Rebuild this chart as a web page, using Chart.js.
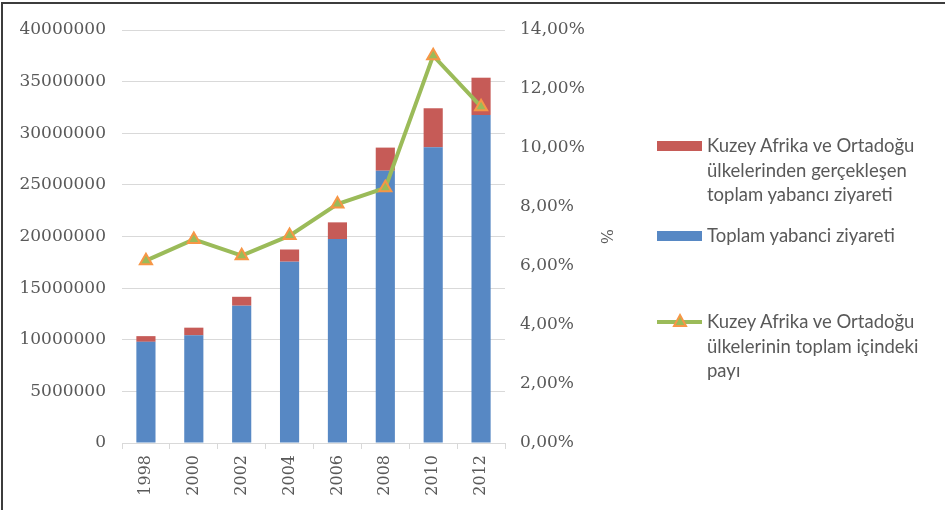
<!DOCTYPE html>
<html><head><meta charset="utf-8">
<script src="https://cdn.jsdelivr.net/npm/chart.js@4/dist/chart.umd.min.js"></script>
<style>
html,body{margin:0;padding:0;background:#fff;}
#wrap{position:relative;width:945px;height:510px;overflow:hidden;background:#fff;}
#frame{position:absolute;left:1px;top:2px;width:960px;height:520px;border-left:2px solid #3c3c3c;border-top:2px solid #3c3c3c;box-sizing:border-box;}
#c{position:absolute;left:0;top:0;}
.leg{position:absolute;left:707px;font-family:Lato,"Open Sans",sans-serif;font-size:18.5px;color:#595959;line-height:24.5px;white-space:nowrap;}
.sw{position:absolute;left:657px;width:45px;height:10px;}
</style></head>
<body><div id="wrap">
<canvas id="c" width="945" height="510"></canvas>
<div id="frame"></div>
<div class="sw" style="top:141px;background:#C65B57;"></div>
<div class="leg" style="top:133px;">Kuzey Afrika ve Ortadoğu<br>ülkelerinden gerçekleşen<br>toplam yabancı ziyareti</div>
<div class="sw" style="top:231px;background:#5788C4;"></div>
<div class="leg" style="top:223px;">Toplam yabanci ziyareti</div>
<svg style="position:absolute;left:655px;top:312px;" width="50" height="20"><line x1="2" y1="10" x2="47" y2="10" stroke="#9BBB59" stroke-width="4"/><polygon points="25,3 31,14 19,14" fill="#9BBB59" stroke="#F79646" stroke-width="2"/></svg>
<div class="leg" style="top:309px;">Kuzey Afrika ve Ortadoğu<br>ülkelerinin toplam içindeki<br>payı</div>
</div>
<script>
const years = ['1998','2000','2002','2004','2006','2008','2010','2012'];
const totalVisitors = [9800000, 10430000, 13300000, 17560000, 19760000, 26370000, 28640000, 31770000];
const menaVisitors = [550000, 740000, 860000, 1180000, 1610000, 2240000, 3780000, 3610000];
const menaShare = [0.0618, 0.069, 0.0635, 0.0703, 0.081, 0.0865, 0.1313, 0.114];
const leftTicks = [0, 5000000, 10000000, 15000000, 20000000, 25000000, 30000000, 35000000, 40000000];
const rightTicks = [0, 0.02, 0.04, 0.06, 0.08, 0.10, 0.12, 0.14];

const xFont = {family: '"DejaVu Serif", "Liberation Serif", serif', size: 16};
const yFont = {family: '"DejaVu Serif", "Liberation Serif", serif', size: 17};
const grey = '#595959';

new Chart(document.getElementById('c'), {
  type: 'bar',
  data: {
    labels: years,
    datasets: [
      {label: 'Toplam yabanci ziyareti', data: totalVisitors, backgroundColor: '#5788C4', borderWidth: 0, yAxisID: 'y', order: 1, barPercentage: 0.4, categoryPercentage: 1},
      {label: 'Kuzey Afrika ve Ortadoğu ülkelerinden gerçekleşen toplam yabancı ziyareti', data: menaVisitors, backgroundColor: '#C65B57', borderWidth: 0, yAxisID: 'y', order: 1, barPercentage: 0.4, categoryPercentage: 1},
      {type: 'line', label: 'Kuzey Afrika ve Ortadoğu ülkelerinin toplam içindeki payı', data: menaShare, yAxisID: 'y1', order: 0,
       borderColor: '#9BBB59', borderWidth: 4, tension: 0, pointStyle: 'triangle', pointRadius: 7, pointHoverRadius: 7,
       pointBackgroundColor: '#9BBB59', pointBorderColor: '#F79646', pointBorderWidth: 2}
    ]
  },
  options: {
    responsive: false, animation: false,
    layout: {padding: {left: 0, top: 30, right: 330, bottom: 0}},
    plugins: {legend: {display: false}, tooltip: {enabled: false}},
    scales: {
      x: {
        stacked: true,
        grid: {display: true, drawOnChartArea: false, drawTicks: true, tickLength: 6, color: '#D9D9D9', offset: true},
        border: {display: true, color: '#D9D9D9'},
        ticks: {color: grey, font: xFont, minRotation: 90, maxRotation: 90, padding: 6},
        afterFit: s => { s.height = 67; }
      },
      y: {
        stacked: true, position: 'left', min: 0, max: 40000000,
        afterBuildTicks: s => { s.ticks = leftTicks.map(v => ({value: v})); },
        grid: {color: '#D9D9D9', drawTicks: false, lineWidth: 1},
        border: {display: false},
        ticks: {color: grey, font: yFont, padding: 16, callback: v => String(v)},
        afterFit: s => { s.width = 122; }
      },
      y1: {
        position: 'right', min: 0, max: 0.14,
        afterBuildTicks: s => { s.ticks = rightTicks.map(v => ({value: v})); },
        grid: {drawOnChartArea: false, drawTicks: false},
        border: {display: false},
        ticks: {color: grey, font: yFont, padding: 15, callback: v => (v * 100).toFixed(2).replace('.', ',') + '%'},
        title: {display: true, text: '%', color: grey, font: xFont, padding: {top: 0, bottom: 2}},
        afterFit: s => { s.width = 110; }
      }
    }
  }
});
</script>
</body></html>
